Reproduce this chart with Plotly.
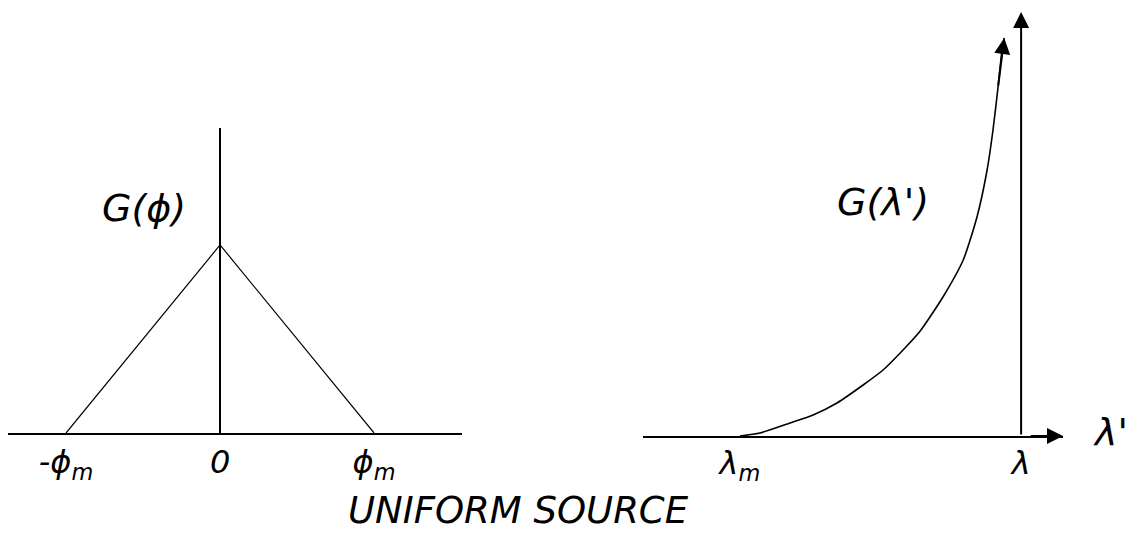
import plotly.graph_objects as go

W, H = 1131, 534

# Left panel: angular distribution G(phi) of a uniform source (triangle)
phi_m = 1.0
phi = [-phi_m, 0.0, phi_m]
g_phi = [0.0, 1.0, 0.0]
phi_ticks = [-phi_m, 0.0, phi_m]
phi_labels = ["-ϕ<sub>m</sub>", "0", "ϕ<sub>m</sub>"]

# Right panel: wavelength distribution G(lambda') rising from lambda_m towards lambda
lam_m = 1.0
lam = 2.0
lam_p = [1.000, 1.071, 1.178, 1.260, 1.345, 1.438, 1.509, 1.580, 1.641,
         1.722, 1.794, 1.843, 1.879, 1.900, 1.918, 1.932, 1.940]
g_lam = [0.00, 0.03, 0.13, 0.21, 0.33, 0.51, 0.66, 0.86, 1.05,
         1.39, 1.76, 2.19, 2.66, 3.06, 3.49, 3.86, 3.98]
lam_ticks = [lam_m, lam]
lam_labels = ["λ<sub>m</sub>", "λ"]

FONT = "DejaVu Sans"
INK = "black"


def px_x(p):
    return p / W


def px_y(p):
    return 1 - p / H


# axis extents in data units
L_XR = [-1.377, 1.571]
L_YR = [0.0, 1.622]
R_XR = [0.655, 2.149]
R_YR = [0.0, 4.24]

fig = go.Figure()

fig.add_trace(go.Scatter(
    x=phi, y=g_phi, mode="lines",
    line=dict(color=INK, width=1.2),
    xaxis="x", yaxis="y", hoverinfo="skip", showlegend=False,
))

fig.add_trace(go.Scatter(
    x=lam_p, y=g_lam, mode="lines",
    line=dict(color=INK, width=1.6, shape="spline", smoothing=0.6),
    xaxis="x2", yaxis="y2", hoverinfo="skip", showlegend=False,
))

tick_font = dict(family=FONT, size=32, color=INK, style="italic")

fig.update_layout(
    width=W, height=H,
    margin=dict(l=0, r=0, t=0, b=0),
    paper_bgcolor="white", plot_bgcolor="white",
    xaxis=dict(
        domain=[px_x(8), px_x(462)], range=L_XR,
        showgrid=False, showline=True, linecolor=INK, linewidth=2,
        zeroline=True, zerolinecolor=INK, zerolinewidth=2,
        tickvals=phi_ticks, ticktext=phi_labels, ticks="",
        tickfont=tick_font, ticklabelstandoff=0,
        anchor="y", fixedrange=True,
    ),
    yaxis=dict(
        domain=[px_y(433), px_y(128)], range=L_YR,
        showgrid=False, showline=False, zeroline=False,
        showticklabels=False, ticks="", anchor="x", fixedrange=True,
    ),
    xaxis2=dict(
        domain=[px_x(643), px_x(1063)], range=R_XR,
        showgrid=False, showline=True, linecolor=INK, linewidth=2,
        zeroline=False,
        tickvals=lam_ticks, ticktext=lam_labels, ticks="",
        tickfont=tick_font, ticklabelstandoff=-2,
        anchor="y2", fixedrange=True,
    ),
    yaxis2=dict(
        domain=[px_y(436), px_y(12)], range=R_YR,
        showgrid=False, showline=False, zeroline=False,
        showticklabels=False, ticks="", anchor="x2", fixedrange=True,
    ),
)

arrow_common = dict(
    showarrow=True, text="", arrowcolor=INK, arrowhead=2,
    arrowsize=1.6, arrowwidth=2, standoff=0, startstandoff=0,
)

# lambda' axis arrowhead
fig.add_annotation(
    x=R_XR[1], y=0, ax=R_XR[1] - 0.12, ay=0,
    xref="x2", yref="y2", axref="x2", ayref="y2", **arrow_common,
)
# vertical axis at lambda, with arrowhead on top
fig.add_annotation(
    x=lam, y=R_YR[1], ax=lam, ay=0,
    xref="x2", yref="y2", axref="x2", ayref="y2", **arrow_common,
)
# arrowhead at the tip of the G(lambda') curve
fig.add_annotation(
    x=lam_p[-1], y=g_lam[-1], ax=lam_p[-3], ay=g_lam[-3],
    xref="x2", yref="y2", axref="x2", ayref="y2", **arrow_common,
)

label_font = dict(family=FONT, size=38, color=INK, style="italic")

fig.add_annotation(
    text="G(ϕ)", x=px_x(144), y=px_y(208), xref="paper", yref="paper",
    showarrow=False, font=label_font, xanchor="center", yanchor="middle",
)
fig.add_annotation(
    text="G(λ')", x=px_x(883), y=px_y(202), xref="paper", yref="paper",
    showarrow=False, font=label_font, xanchor="center", yanchor="middle",
)
fig.add_annotation(
    text="λ'", x=px_x(1110), y=px_y(432), xref="paper", yref="paper",
    showarrow=False, font=label_font, xanchor="center", yanchor="middle",
)
fig.add_annotation(
    text="UNIFORM SOURCE", x=px_x(518), y=px_y(510), xref="paper", yref="paper",
    showarrow=False, font=dict(family=FONT, size=37, color=INK, style="italic"),
    xanchor="center", yanchor="middle",
)

fig.write_html("out.html")
